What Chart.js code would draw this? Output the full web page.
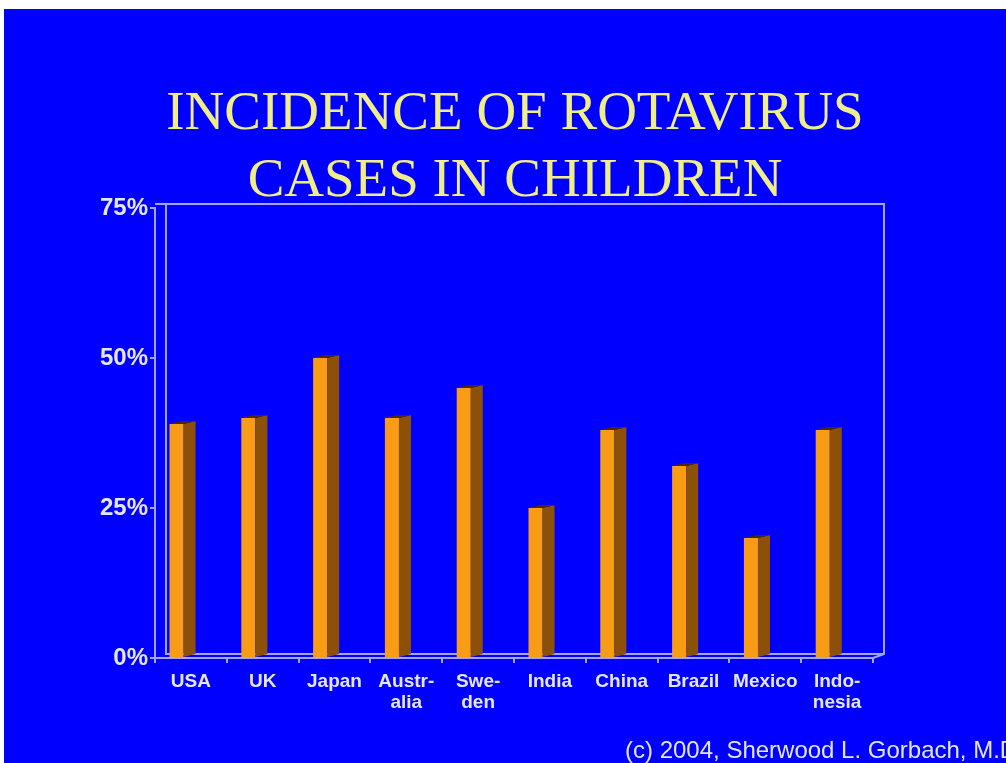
<!DOCTYPE html>
<html>
<head>
<meta charset="utf-8">
<script src="https://cdn.jsdelivr.net/npm/chart.js@4/dist/chart.umd.min.js"></script>
<style>
  html, body { margin: 0; padding: 0; background: #fff; }
  #wrap { position: absolute; left: 4px; top: 9px; width: 1002px; height: 754px; background: #0000ff; overflow: hidden; }
</style>
</head>
<body>
<div id="wrap"><canvas id="chart-rotavirus" width="1002" height="754"></canvas></div>
<script>
// incidence-chart - rotavirus cases per country (slide style, 3D bars)
const countries = ['USA', 'UK', 'Japan', ['Austr-', 'alia'], ['Swe-', 'den'], 'India', 'China', 'Brazil', 'Mexico', ['Indo-', 'nesia']];
const incidence = [39, 40, 50, 40, 45, 25, 38, 32, 20, 38];
const yTicks = [0, 25, 50, 75];
const titleLines = ['INCIDENCE OF ROTAVIRUS', 'CASES IN CHILDREN'];
const footerText = '(c) 2004, Sherwood L. Gorbach, M.D.';

const axisColor = '#a4a4ff';
const labelColor = '#e6e6fa';
const barFront = '#f89c16';
const barSide = '#8c5009';
const barTop = '#4a2a05';

// back wall + floor lines, drawn behind bars
const wallPlugin = {
  id: 'wall',
  beforeDatasetsDraw(chart) {
    const { ctx, chartArea: a } = chart;
    const dx = 11, dy = 4;
    ctx.save();
    ctx.strokeStyle = axisColor;
    ctx.lineWidth = 2;
    ctx.beginPath();
    ctx.moveTo(a.left, a.top - dy);
    ctx.lineTo(a.right + dx, a.top - dy);
    ctx.lineTo(a.right + dx, a.bottom - dy);
    ctx.lineTo(a.right, a.bottom);
    ctx.moveTo(a.left + dx, a.top - dy);
    ctx.lineTo(a.left + dx, a.bottom - dy);
    ctx.lineTo(a.right + dx, a.bottom - dy);
    ctx.stroke();
    ctx.restore();
  }
};

// side and top faces of each bar
const depthPlugin = {
  id: 'depth',
  afterDatasetsDraw(chart) {
    const { ctx } = chart;
    const meta = chart.getDatasetMeta(0);
    const dx = 12, dy = 3;
    ctx.save();
    meta.data.forEach(bar => {
      const { x, y, base, width } = bar.getProps(['x', 'y', 'base', 'width'], true);
      const x1 = x - width / 2, x2 = x + width / 2;
      ctx.fillStyle = barSide;
      ctx.beginPath();
      ctx.moveTo(x2, y);
      ctx.lineTo(x2 + dx, y - dy);
      ctx.lineTo(x2 + dx, base - dy);
      ctx.lineTo(x2, base);
      ctx.closePath();
      ctx.fill();
      ctx.fillStyle = barTop;
      ctx.beginPath();
      ctx.moveTo(x1, y);
      ctx.lineTo(x2, y);
      ctx.lineTo(x2 + dx, y - dy);
      ctx.lineTo(x1 + dx, y - dy);
      ctx.closePath();
      ctx.fill();
    });
    ctx.restore();
  }
};

// slide title and copyright line
const textPlugin = {
  id: 'slideText',
  afterDraw(chart) {
    const { ctx } = chart;
    ctx.save();
    ctx.fillStyle = '#f0ee88';
    ctx.font = '55px "Liberation Serif", "Times New Roman", serif';
    ctx.textAlign = 'center';
    ctx.textBaseline = 'alphabetic';
    ctx.fillText(titleLines[0], 511, 120);
    ctx.fillText(titleLines[1], 511, 187);
    ctx.fillStyle = '#e4e4ff';
    ctx.font = '24px "Liberation Sans", Arial, sans-serif';
    ctx.textAlign = 'left';
    ctx.fillText(footerText, 621, 749);
    ctx.restore();
  }
};

const ctx = document.getElementById('chart-rotavirus').getContext('2d');
new Chart(ctx, {
  type: 'bar',
  data: {
    labels: countries,
    datasets: [
      { data: incidence, backgroundColor: barFront, borderWidth: 0, barPercentage: 0.49, categoryPercentage: 0.8 },
      // empty slot so the 3D bar sits left of the category centre
      { data: [], backgroundColor: 'rgba(0,0,0,0)', barPercentage: 0.49, categoryPercentage: 0.8 }
    ]
  },
  options: {
    responsive: false,
    animation: false,
    devicePixelRatio: 1,
    layout: { padding: { top: 199, right: 133, bottom: 0, left: 0 } },
    plugins: { legend: { display: false }, tooltip: { enabled: false }, title: { display: false } },
    scales: {
      x: {
        afterFit(scale) { scale.height = 105; },
        grid: { display: true, drawOnChartArea: false, drawTicks: true, tickLength: 5, color: axisColor, lineWidth: 2, offset: true },
        border: { display: true, color: axisColor, width: 2 },
        ticks: {
          color: labelColor,
          padding: 8,
          maxRotation: 0,
          autoSkip: false,
          font: { family: '"Liberation Sans", Arial, sans-serif', size: 19, weight: 'bold', lineHeight: 1.1 }
        }
      },
      y: {
        min: yTicks[0],
        max: yTicks[yTicks.length - 1],
        afterFit(scale) { scale.width = 151; },
        afterBuildTicks(scale) { scale.ticks = yTicks.map(v => ({ value: v })); },
        grid: { display: true, drawOnChartArea: false, drawTicks: true, tickLength: 5, color: axisColor, lineWidth: 2 },
        border: { display: true, color: axisColor, width: 2 },
        ticks: {
          color: labelColor,
          padding: 2,
          callback: v => v + '%',
          font: { family: '"Liberation Sans", Arial, sans-serif', size: 24, weight: 'bold' }
        }
      }
    }
  },
  plugins: [wallPlugin, depthPlugin, textPlugin]
});
</script>
</body>
</html>
